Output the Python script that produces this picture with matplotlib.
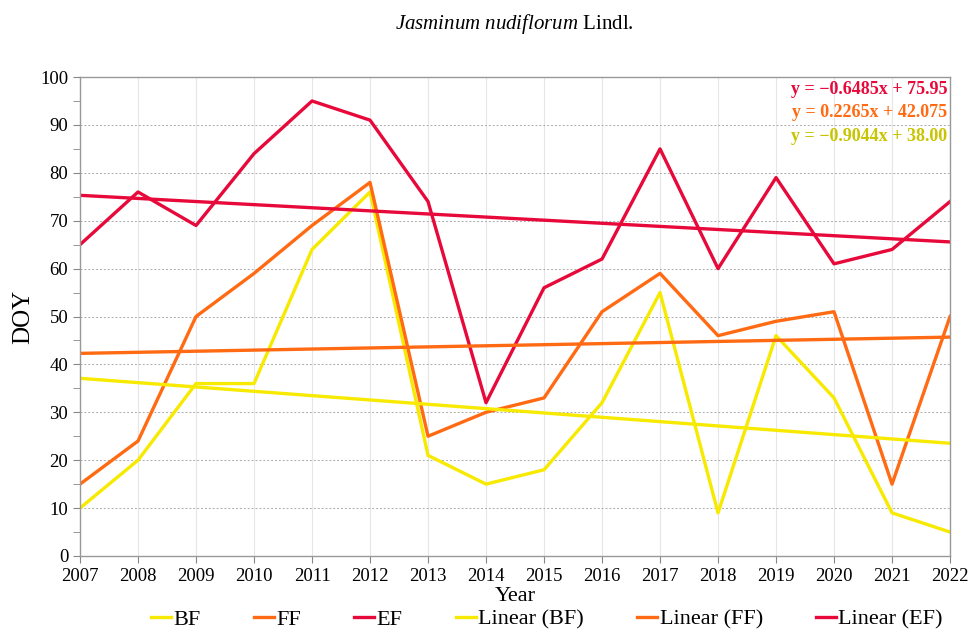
import matplotlib as mpl
import matplotlib.pyplot as plt
import numpy as np

mpl.rc('font', family=['Liberation Serif', 'DejaVu Serif'])
mpl.rcParams['mathtext.fontset'] = 'custom'
mpl.rcParams['mathtext.rm'] = 'Liberation Serif'
mpl.rcParams['mathtext.it'] = 'Liberation Serif:italic'

years = [2007, 2008, 2009, 2010, 2011, 2012, 2013, 2014,
         2015, 2016, 2017, 2018, 2019, 2020, 2021, 2022]
bf = [10, 20, 36, 36, 64, 76, 21, 15, 18, 32, 55, 9, 46, 33, 9, 5]
ff = [15, 24, 50, 59, 69, 78, 25, 30, 33, 51, 59, 46, 49, 51, 15, 50]
ef = [65, 76, 69, 84, 95, 91, 74, 32, 56, 62, 85, 60, 79, 61, 64, 74]

# trendline coefficients (slope, intercept) as printed on the chart, x = 1..16
bf_fit = [-0.9044, 38.00]
ff_fit = [0.2265, 42.075]
ef_fit = [-0.6485, 75.95]
eq_labels = ['y = \u22120.6485x + 75.95', 'y = 0.2265x + 42.075', 'y = \u22120.9044x + 38.00']

c_bf = '#f7ea00'
c_ff = '#ff6a13'
c_ef = '#e8093b'
c_bf_txt = '#c9c400'

fig = plt.figure(figsize=(9.77, 6.42), dpi=100)
ax = fig.add_axes([0.0819, 0.134, 0.8905, 0.746])

x = np.array(years)
idx = np.arange(1, len(years) + 1)

lw = 2.4
ax.plot(x, bf, color=c_bf, lw=lw, label='BF')
ax.plot(x, ff, color=c_ff, lw=lw, label='FF')
ax.plot(x, ef, color=c_ef, lw=lw, label='EF')
ax.plot(x, bf_fit[0] * idx + bf_fit[1], color=c_bf, lw=lw, label='Linear (BF)')
ax.plot(x, ff_fit[0] * idx + ff_fit[1], color=c_ff, lw=lw, label='Linear (FF)')
ax.plot(x, ef_fit[0] * idx + ef_fit[1], color=c_ef, lw=lw, label='Linear (EF)')

ax.set_xlim(2007, 2022)
ax.set_ylim(0, 100)
ax.set_xticks(years)
ax.set_yticks(np.arange(0, 101, 10))
ax.set_yticks(np.arange(0, 101, 5), minor=True)
ax.tick_params(axis='both', labelsize=13.5, color='#888888', length=5)
ax.tick_params(axis='y', which='minor', color='#888888', length=5)
ax.tick_params(axis='x', pad=4)

ax.grid(axis='y', which='major', color='#aaaaaa', ls=(0, (2, 2)), lw=0.7)
ax.grid(axis='x', which='major', color='#e6e6e6', ls='-', lw=0.8)
ax.set_axisbelow(True)
for s in ax.spines.values():
    s.set_color('#999999')
    s.set_linewidth(1.0)

ax.set_xlabel('Year', fontsize=16, labelpad=1)
ax.set_ylabel('DOY', fontsize=18, labelpad=4)

fig.text(0.527, 0.962, r'$\it{Jasminum\ nudiflorum}$ Lindl.', ha='center', va='center', fontsize=15)

eq_colors = [c_ef, c_ff, c_bf_txt]
for k, (lab, col) in enumerate(zip(eq_labels, eq_colors)):
    ax.text(0.997, 0.975 - k * 0.05, lab, transform=ax.transAxes, ha='right', va='center',
            color=col, fontsize=13, fontweight='bold')

fig.legend(loc='center', bbox_to_anchor=(0.56, 0.035), ncol=6, frameon=False,
           fontsize=16, handlelength=0.9, handletextpad=0.1, columnspacing=2.4)

plt.savefig('out.png', dpi=100)
